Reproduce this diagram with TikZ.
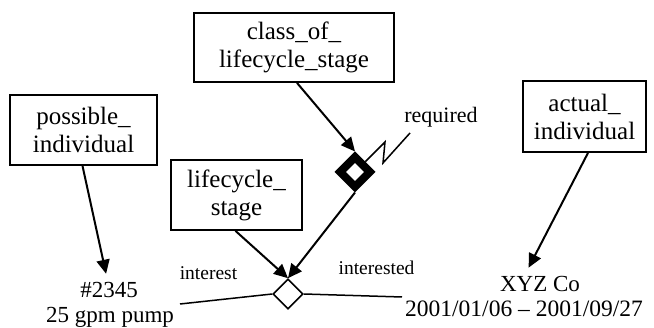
\documentclass[tikz,border=0pt]{standalone}
\usepackage{fontspec}
\setmainfont{Liberation Serif}
\usetikzlibrary{arrows.meta,shapes.geometric}
\tikzset{
  entity/.style={draw, line width=1.8pt, align=center, inner sep=0pt,
    font=\fontsize{25}{28}\selectfont},
  label/.style={inner sep=0pt, anchor=base},
  conn/.style={line width=2pt},
  arr/.style={conn, -{Triangle[length=14pt,width=13pt]}},
  rel/.style={diamond, draw, fill=white, inner sep=0pt, line width=1.6pt,
    minimum width=30pt, minimum height=30pt},
  boldrel/.style={diamond, draw, fill=white, inner sep=0pt, line width=8pt,
    minimum width=33pt, minimum height=33pt},
}
\begin{document}
\begin{tikzpicture}[x=1pt, y=-1pt]
\useasboundingbox (0,0) rectangle (654,328);

% entity types
\node[entity, minimum width=200pt, minimum height=69pt] (cls) at (294,47.5)
  {class\_of\_\\lifecycle\_stage};
\node[entity, minimum width=147pt, minimum height=70pt] (poss) at (83.5,130)
  {possible\_\\individual};
\node[entity, minimum width=131pt, minimum height=70pt] (life) at (236.5,195)
  {lifecycle\_\\stage};
\node[entity, minimum width=123pt, minimum height=71pt] (act) at (584.5,116.5)
  {actual\_\\individual};

% relationships
\node[boldrel] (req) at (355,172) {};
\node[rel] (rel) at (288,294) {};

% instances
\node[label, font=\fontsize{23}{25}\selectfont] (num) at (109,298) {\#2345};
\node[label, font=\fontsize{23}{25}\selectfont] (pump) at (110,323) {25 gpm pump};
\node[label, font=\fontsize{23}{25}\selectfont] (xyz) at (540,292) {XYZ Co};
\node[label, font=\fontsize{23.5}{25}\selectfont] (dates) at (524,317) {2001/01/06 – 2001/09/27};

% role labels
\node[label, font=\fontsize{19.5}{22}\selectfont] (lint) at (208.5,280) {interest};
\node[label, font=\fontsize{19.5}{22}\selectfont] (lintd) at (376.5,275) {interested};
\node[label, font=\fontsize{22}{24}\selectfont] (lreq) at (441,123) {required};

% loose ends of the role lines and the zigzag
\coordinate (lend) at (180,304);
\coordinate (rend) at (402,297);
\coordinate (z1) at (385,142);
\coordinate (z2) at (383,163);
\coordinate (z3) at (410,133);

% connectors
\draw[arr] ([xshift=3pt]cls.south) -- (req.north);
\draw[arr] (req.south) -- (rel.north);
\draw[arr] ([xshift=-1pt]life.south) -- (rel.north);
\draw[arr, shorten >=9pt] ([xshift=-1pt]poss.south) -- ([xshift=-1pt]num.north);
\draw[arr, shorten >=10pt] ([xshift=3.5pt]act.south) -- (dates.north |- xyz.north);
\draw[conn, line width=1.5pt] (req.north east) -- (z1) -- (z2) -- (z3);
\draw[conn, line width=1.5pt] (rel.west) -- (lend);
\draw[conn, line width=1.5pt] (rel.east) -- (rend);
\end{tikzpicture}
\end{document}
